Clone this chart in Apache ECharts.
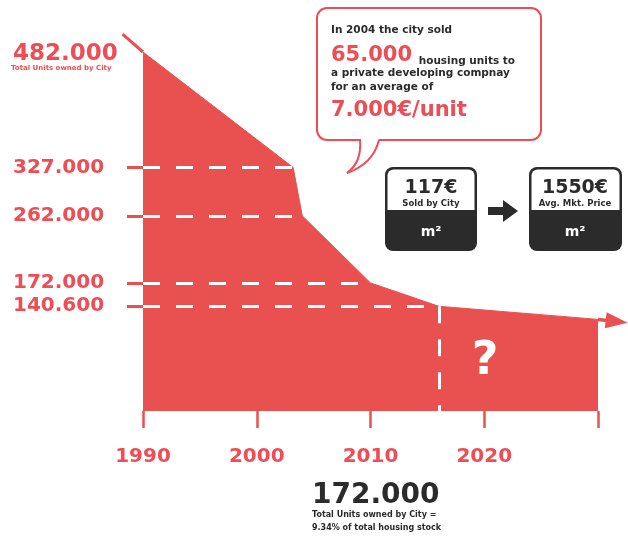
<!DOCTYPE html>
<html>
<head>
<meta charset="utf-8">
<script src="https://cdn.jsdelivr.net/npm/echarts@6/dist/echarts.min.js"></script>
<style>
  html, body { margin: 0; padding: 0; background: #ffffff; }
  #chart { width: 628px; height: 536px; }
</style>
</head>
<body>
<div id="chart"></div>
<script>
// ---- data ----
const years = [1990, 2003.2, 2004, 2010, 2016, 2030];
const units = [482000, 327000, 262000, 172000, 140600, 123000];
const leadInYears = [1988.2, 1990];
const leadInUnits = [506000, 482000];
const arrowYears = [2030, 2032.6];
const arrowUnits = [123000, 118500];
const yTickValues = [140600, 172000, 262000, 327000];
const yLabelValues = [140600, 172000, 262000, 327000, 482000];
const xTickLabels = [1990, 2000, 2010, 2020];
const guideValues = [327000, 262000, 172000, 140600];
const saleYear = 2016;

const RED = '#e8514f';
const TXT_RED = '#ee4d55';
const DARK = '#2b2b2b';
const FONT = '"DejaVu Sans", sans-serif';

function fmt(v) { return String(v).replace(/\B(?=(\d{3})+(?!\d))/g, '.'); }

const areaData = years.map((y, i) => [y, units[i]]);
const leadData = leadInYears.map((y, i) => [y, leadInUnits[i]]);
const arrowData = arrowYears.map((y, i) => [y, arrowUnits[i]]);
const saleIdx = years.indexOf(saleYear);

const guideLines = guideValues.map(v => {
  const idx = units.indexOf(v);
  return [{ coord: [years[0], v] }, { coord: [years[idx], v] }];
});
guideLines.push([{ coord: [saleYear, units[saleIdx]] }, { coord: [saleYear, 0] }]);

const chart = echarts.init(document.getElementById('chart'), null, { renderer: 'canvas' });

function txt(x, y, text, font, fill, align, z) {
  return { type: 'text', x: x, y: y, z: z || 7, style: { text: text, fill: fill, font: font, textAlign: align || 'left', textVerticalAlign: 'middle', verticalAlign: 'middle' } };
}

// extensions of the curve beyond the plotted range (lead-in and arrow)
function renderExt(params, api) {
  if (params.dataIndex === 0) {
    const a = api.coord(leadData[0]), b = api.coord(leadData[1]);
    return { type: 'line', shape: { x1: a[0], y1: a[1], x2: b[0], y2: b[1] }, style: { stroke: RED, lineWidth: 3 } };
  }
  const a = api.coord(arrowData[0]), b = api.coord(arrowData[1]);
  const dx = b[0] - a[0], dy = b[1] - a[1], len = Math.sqrt(dx * dx + dy * dy);
  const ux = dx / len, uy = dy / len, px = -uy, py = ux;
  const headL = 22, headW = 8;
  const bx = b[0] - ux * headL, by = b[1] - uy * headL;
  return {
    type: 'group',
    children: [
      { type: 'line', shape: { x1: a[0], y1: a[1], x2: bx + ux * 2, y2: by + uy * 2 }, style: { stroke: RED, lineWidth: 3.5 } },
      { type: 'polygon', shape: { points: [[b[0], b[1]], [bx + px * headW, by + py * headW], [bx - px * headW, by - py * headW]] }, style: { fill: RED } }
    ]
  };
}

const option = {
  animation: false,
  backgroundColor: '#ffffff',
  grid: { left: 143, right: 30, top: 52, bottom: 125 },
  xAxis: {
    type: 'value',
    min: 1990, max: 2030, interval: 10,
    axisLine: { show: false },
    splitLine: { show: false },
    axisTick: { show: true, length: 17, lineStyle: { color: RED, width: 2.5 } },
    axisLabel: {
      margin: 36,
      color: TXT_RED,
      fontFamily: FONT,
      fontWeight: 'bold',
      fontSize: 20,
      formatter: v => xTickLabels.indexOf(v) >= 0 ? String(v) : ''
    }
  },
  yAxis: {
    type: 'value',
    min: 0, max: 482000,
    axisLine: { show: false },
    splitLine: { show: false },
    axisTick: { show: true, length: 16, customValues: yTickValues, lineStyle: { color: RED, width: 3 } },
    axisLabel: {
      customValues: yLabelValues,
      margin: 130,
      align: 'left',
      color: TXT_RED,
      fontFamily: FONT,
      fontWeight: 'bold',
      fontSize: 20,
      formatter: v => v === 482000 ? '{big|' + fmt(v) + '}' : fmt(v),
      rich: {
        big: { fontSize: 23, fontWeight: 'bold', fontFamily: FONT, color: TXT_RED, padding: [4, 0, 0, 0] }
      }
    }
  },
  series: [
    {
      type: 'line',
      data: areaData,
      symbol: 'none',
      lineStyle: { color: RED, width: 1 },
      areaStyle: { color: RED, opacity: 1 },
      z: 2,
      markLine: {
        silent: true,
        symbol: ['none', 'none'],
        label: { show: false },
        lineStyle: { color: '#ffffff', width: 3, type: [17, 16] },
        emphasis: { disabled: true },
        data: guideLines
      }
    },
    {
      type: 'custom',
      clip: false,
      silent: true,
      data: [leadData[0], arrowData[1]],
      encode: { x: 0, y: 1 },
      renderItem: renderExt,
      z: 3
    }
  ],
  graphic: [
    txt(11, 68, 'Total Units owned by City', 'bold 7px ' + FONT, TXT_RED),
    txt(485, 362, '?', 'bold 46px ' + FONT, '#ffffff', 'center', 10),
    // speech bubble
    { type: 'rect', z: 5, shape: { x: 317, y: 8, width: 224, height: 132, r: 10 }, style: { fill: '#ffffff', stroke: TXT_RED, lineWidth: 2 } },
    { type: 'polygon', z: 6, shape: { points: [[361, 138], [379, 138], [377, 146], [372, 156], [362, 166], [349, 173], [356, 164], [360, 154], [361, 146]] }, style: { fill: '#ffffff' } },
    { type: 'bezierCurve', z: 6, shape: { x1: 360, y1: 140, x2: 347, y2: 173, cpx1: 362, cpy1: 162 }, style: { stroke: TXT_RED, lineWidth: 2, fill: null } },
    { type: 'bezierCurve', z: 6, shape: { x1: 379, y1: 140, x2: 347, y2: 173, cpx1: 373, cpy1: 164 }, style: { stroke: TXT_RED, lineWidth: 2, fill: null } },
    txt(331, 30, 'In 2004 the city sold', 'bold 10.5px ' + FONT, DARK),
    {
      type: 'text', x: 331, y: 56, z: 7,
      style: {
        text: '{a|65.000}  {b|housing units to}',
        textVerticalAlign: 'middle', verticalAlign: 'middle',
        rich: {
          a: { fill: TXT_RED, font: 'bold 21px ' + FONT, verticalAlign: 'bottom' },
          b: { fill: DARK, font: 'bold 10.5px ' + FONT, verticalAlign: 'bottom' }
        }
      }
    },
    txt(331, 73, 'a private developing compnay', 'bold 10.5px ' + FONT, DARK),
    txt(331, 87, 'for an average of', 'bold 10.5px ' + FONT, DARK),
    txt(331, 111, '7.000€/unit', 'bold 21px ' + FONT, TXT_RED),
    // box 1
    { type: 'rect', z: 5, shape: { x: 385, y: 167, width: 92, height: 84, r: 8 }, style: { fill: DARK } },
    { type: 'rect', z: 6, shape: { x: 387.5, y: 169.5, width: 87, height: 40.5, r: [6, 6, 0, 0] }, style: { fill: '#ffffff' } },
    txt(431, 188, '117€', 'bold 19px ' + FONT, DARK, 'center'),
    txt(431, 204, 'Sold by City', 'bold 8.5px ' + FONT, DARK, 'center'),
    txt(431, 232, 'm²', 'bold 14px ' + FONT, '#ffffff', 'center'),
    // arrow
    { type: 'polygon', z: 5, shape: { points: [[488, 207], [503, 207], [503, 200], [518, 211], [503, 222], [503, 215], [488, 215]] }, style: { fill: DARK } },
    // box 2
    { type: 'rect', z: 5, shape: { x: 529, y: 167, width: 93, height: 84, r: 8 }, style: { fill: DARK } },
    { type: 'rect', z: 6, shape: { x: 531.5, y: 169.5, width: 88, height: 40.5, r: [6, 6, 0, 0] }, style: { fill: '#ffffff' } },
    txt(575, 188, '1550€', 'bold 19px ' + FONT, DARK, 'center'),
    txt(575, 204, 'Avg. Mkt. Price', 'bold 8.5px ' + FONT, DARK, 'center'),
    txt(575, 232, 'm²', 'bold 14px ' + FONT, '#ffffff', 'center'),
    // bottom note
    txt(312, 496, '172.000', 'bold 28px ' + FONT, DARK),
    txt(312, 515, 'Total Units owned by City =', 'bold 8px ' + FONT, DARK),
    txt(312, 528, '9.34% of total housing stock', 'bold 8px ' + FONT, DARK)
  ]
};

chart.setOption(option);
</script>
</body>
</html>
